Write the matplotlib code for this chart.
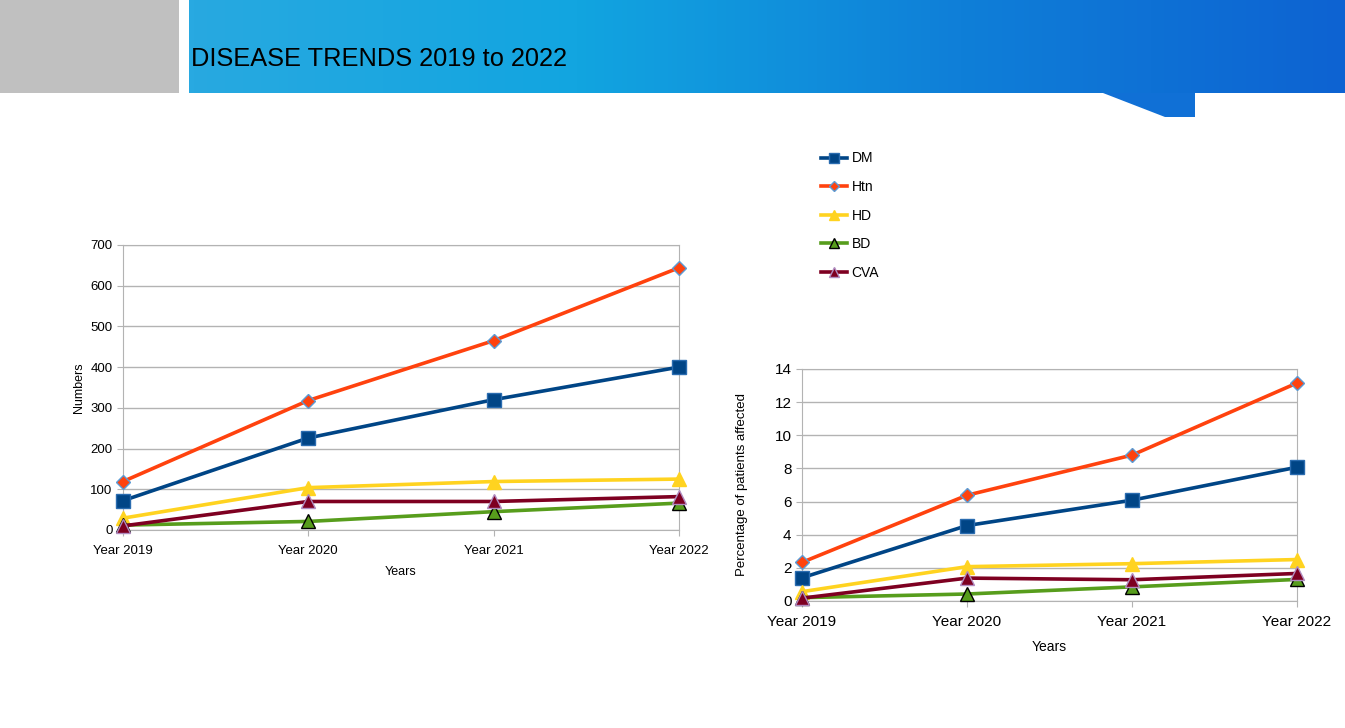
import numpy as np
import matplotlib.pyplot as plt
from matplotlib.colors import LinearSegmentedColormap
from matplotlib.patches import Rectangle, Polygon
from matplotlib.lines import Line2D

plt.rcParams['font.family'] = ['Liberation Sans', 'DejaVu Sans']

# ---------------- data ----------------
years = ["Year 2019", "Year 2020", "Year 2021", "Year 2022"]
series = ["DM", "Htn", "HD", "BD", "CVA"]

# numbers of patients
dm_n = [72, 226, 320, 400]
htn_n = [119, 318, 465, 644]
hd_n = [29, 104, 119, 125]
bd_n = [12, 21, 45, 66]
cva_n = [10, 70, 70, 82]

# percentage of patients affected
dm_p = [1.4, 4.55, 6.08, 8.07]
htn_p = [2.33, 6.38, 8.8, 13.15]
hd_p = [0.56, 2.07, 2.25, 2.5]
bd_p = [0.2, 0.42, 0.85, 1.3]
cva_p = [0.17, 1.38, 1.28, 1.66]

# styles per series: colour, marker, marker size, marker edge colour
styles = {
    "DM": ("#004586", "s", 10.5, "#2a6cb0"),
    "Htn": ("#ff420e", "D", 7, "#5b9bd5"),
    "HD": ("#ffd320", "^", 9.5, "#ffd320"),
    "BD": ("#579d1c", "^", 10, "#000000"),
    "CVA": ("#7e0021", "^", 9.5, "#b08cc0"),
}

fig = plt.figure(figsize=(13.45, 7.28), dpi=100)

# ---------------- header band ----------------
bg = fig.add_axes([0, 0, 1, 1], zorder=-5)
bg.axis('off')
bg.add_patch(Rectangle((0, 0), 179, 93, color="#c0c0c0", lw=0))
cmap = LinearSegmentedColormap.from_list("band", ["#28a9e1", "#12a5e0", "#0f7fd8", "#0d63d2"])
grad = np.linspace(0, 1, 256).reshape(1, -1)
bg.imshow(grad, cmap=cmap, extent=[189, 1345, 93, 0], aspect='auto')
bg.add_patch(Polygon([[1103, 93], [1195, 93], [1195, 117], [1165, 117]], closed=True,
                     color="#1070d6", lw=0))
bg.set_xlim(0, 1345)
bg.set_ylim(728, 0)
bg.text(191, 59, "DISEASE TRENDS 2019 to 2022", fontsize=18.3, color="black",
        va='center', ha='left')


def style_axes(ax, ticksize, pad):
    ax.set_xlim(0, 3)
    ax.set_xticks(range(len(years)))
    ax.set_xticklabels(years, fontsize=ticksize)
    ax.grid(axis='y', color="#b3b3b3", lw=1)
    ax.set_axisbelow(True)
    for s in ax.spines.values():
        s.set_color("#b3b3b3")
    ax.tick_params(axis='both', colors="#b3b3b3", labelcolor="black", length=4,
                   labelsize=ticksize)
    ax.tick_params(axis='x', pad=pad)


def draw(ax, values):
    x = np.arange(len(years))
    for name, vals in zip(series, values):
        c, m, ms, ec = styles[name]
        ax.plot(x, vals, color=c, lw=2.6, marker=m, markersize=ms,
                markeredgecolor=ec, markeredgewidth=1, label=name,
                clip_on=False, zorder=3)


# ---------------- left chart ----------------
ax1 = fig.add_axes([0.0914, 0.272, 0.4134, 0.3915])
draw(ax1, [dm_n, htn_n, hd_n, bd_n, cva_n])
ax1.set_ylim(0, 700)
ax1.set_yticks(range(0, 701, 100))
style_axes(ax1, 9.5, 7)
ax1.set_ylabel("Numbers", fontsize=9)
ax1.set_xlabel("Years", fontsize=9)
ax1.xaxis.labelpad = 6

# ---------------- right chart ----------------
ax2 = fig.add_axes([0.5963, 0.1745, 0.368, 0.3187])
draw(ax2, [dm_p, htn_p, hd_p, bd_p, cva_p])
ax2.set_ylim(0, 14)
ax2.set_yticks(range(0, 15, 2))
style_axes(ax2, 11, 6)
ax2.set_ylabel("Percentage of patients affected", fontsize=9.5)
ax2.yaxis.labelpad = 19
ax2.set_xlabel("Years", fontsize=10)
ax2.xaxis.labelpad = 8

# ---------------- legend ----------------
handles = []
for name in series:
    c, m, ms, ec = styles[name]
    handles.append(Line2D([], [], color=c, lw=2.6, marker=m, markersize=ms * 0.75,
                          markeredgecolor=ec, markeredgewidth=1))
fig.legend(handles, series, loc='upper left', bbox_to_anchor=(808 / 1345, 1 - 139 / 728),
           frameon=False, fontsize=10, handlelength=1.9, labelspacing=1.05,
           handletextpad=0.35)

fig.savefig("out.png", dpi=100)
